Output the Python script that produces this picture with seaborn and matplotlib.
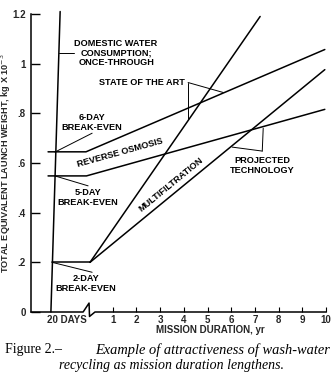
import matplotlib
matplotlib.use("Agg")
import matplotlib.pyplot as plt
import seaborn as sns
import numpy as np

sns.set_theme(style="white")
plt.rcParams['font.family'] = ['Liberation Sans', 'DejaVu Sans']

# ---- data (x in axis position units: years on the right of the break) ----
domestic_x = [-1.61, -1.22]
domestic_y = [0.0, 1.21]

sixday_x = [-1.73, -0.13, 9.95]
sixday_y = [0.645, 0.645, 1.057]

fiveday_x = [-1.73, -0.11, 9.95]
fiveday_y = [0.548, 0.548, 0.816]

twoday_x = [-1.57, 0.04]
twoday_y = [0.2, 0.2]

steep_x = [0.04, 7.22]
steep_y = [0.2, 1.19]

multi_x = [0.04, 9.95]
multi_y = [0.2, 0.976]

xtick_pos = [-0.93, 1, 2, 3, 4, 5, 6, 7, 8, 9, 10]
xtick_labels = ["20 DAYS", "1", "2", "3", "4", "5", "6", "7", "8", "9", "10"]
ytick_pos = [0, 0.2, 0.4, 0.6, 0.8, 1.0, 1.2]
ytick_labels = ["0", ".2", ".4", ".6", ".8", "1", "1.2"]

fig = plt.figure(figsize=(3.35, 3.81), dpi=100)
ax = fig.add_axes([31/335, 69/381, 295/335, 298/381])

lw = 1.1
for xs, ys in [(domestic_x, domestic_y), (sixday_x, sixday_y), (fiveday_x, fiveday_y),
               (twoday_x, twoday_y), (steep_x, steep_y), (multi_x, multi_y)]:
    sns.lineplot(x=xs, y=ys, ax=ax, color="black", lw=lw, sort=False,
                 estimator=None, clip_on=False)

ax.set_xlim(-2.45, 10)
ax.set_ylim(0, 1.2)

# spines
for s in ["top", "right", "bottom"]:
    ax.spines[s].set_visible(False)
ax.spines["left"].set_color("black")
ax.spines["left"].set_linewidth(1.1)

# bottom axis with break
bx = [-2.45, -0.25, 0.0, 0.02, 0.25, 10]
by = [0.0, 0.0, 0.036, -0.018, 0.0, 0.0]
ax.plot(bx, by, color="black", lw=1.1, clip_on=False)

tfont = dict(fontsize=7, fontweight="bold")
ax.set_xticks(xtick_pos)
ax.set_xticklabels(xtick_labels, **tfont)
ax.set_yticks(ytick_pos)
ax.set_yticklabels(ytick_labels, **tfont)
ax.tick_params(axis="x", direction="in", length=3.6, width=0.8, color="black", pad=2.5, bottom=True)
ax.tick_params(axis="y", direction="in", length=6.5, width=1.0, color="black", pad=3.6, left=True)
ax.xaxis.get_major_ticks()[0].tick1line.set_visible(False)

ax.set_xlabel("MISSION DURATION, yr", fontsize=7, fontweight="bold")
ax.xaxis.set_label_coords((210-31)/295, -0.045)
ax.set_ylabel("TOTAL EQUIVALENT LAUNCH WEIGHT, kg X 10$^{-3}$", fontsize=6.6,
              fontweight="bold")
ax.yaxis.set_label_coords(-0.061, 0.5)

afont = dict(fontsize=6.6, fontweight="bold", color="black", ha="center", va="center",
             linespacing=1.1)

def leader(xs, ys):
    ax.plot(xs, ys, color="black", lw=0.7, clip_on=False)

ax.text(1.14, 1.044, "DOMESTIC WATER\nCONSUMPTION;\nONCE-THROUGH", **afont)
leader([-1.27, -0.63], [1.044, 1.044])

ax.text(2.24, 0.924, "STATE OF THE ART", **afont)
leader([4.18, 5.66], [0.924, 0.884])
leader([4.18, 4.18], [0.924, 0.776])

ax.text(0.13, 0.764, "6-DAY\nBREAK-EVEN", **afont)
leader([0.13, -1.44], [0.72, 0.644])

ax.text(-0.04, 0.46, "5-DAY\nBREAK-EVEN", **afont)
leader([-1.44, -0.04], [0.548, 0.508])

ax.text(-0.13, 0.116, "2-DAY\nBREAK-EVEN", **afont)
leader([-1.56, 0.13], [0.2, 0.16])

ax.text(7.31, 0.59, "PROJECTED\nTECHNOLOGY", **afont)
leader([7.35, 7.31], [0.74, 0.648])
leader([7.31, 6.04], [0.648, 0.664])

def screen_angle(xs, ys):
    p = ax.transData.transform(np.column_stack([xs, ys]))
    return np.degrees(np.arctan2(p[1, 1] - p[0, 1], p[1, 0] - p[0, 0]))

ang_ro = screen_angle(fiveday_x[1:], fiveday_y[1:])
ax.text(1.31, 0.64, "REVERSE OSMOSIS", rotation=ang_ro, rotation_mode="anchor", **afont)
ang_mf = screen_angle(multi_x, multi_y)
ax.text(3.46, 0.512, "MULTIFILTRATION", rotation=ang_mf, rotation_mode="anchor", **afont)

# caption
cap = dict(fontsize=10, family=["Liberation Serif", "DejaVu Serif"], color="black", va="center")
fig.text(5/335, 1 - 350/381, "Figure 2.\u2013", ha="left", **cap)
fig.text(330/335, 1 - 350/381, "Example of attractiveness of wash-water", ha="right",
         style="italic", fontsize=10.4, family=["Liberation Serif", "DejaVu Serif"],
         color="black", va="center")
fig.text(171/335, 1 - 366/381, "recycling as mission duration lengthens.", ha="center",
         style="italic", **cap)

fig.savefig("out.png", dpi=100)
